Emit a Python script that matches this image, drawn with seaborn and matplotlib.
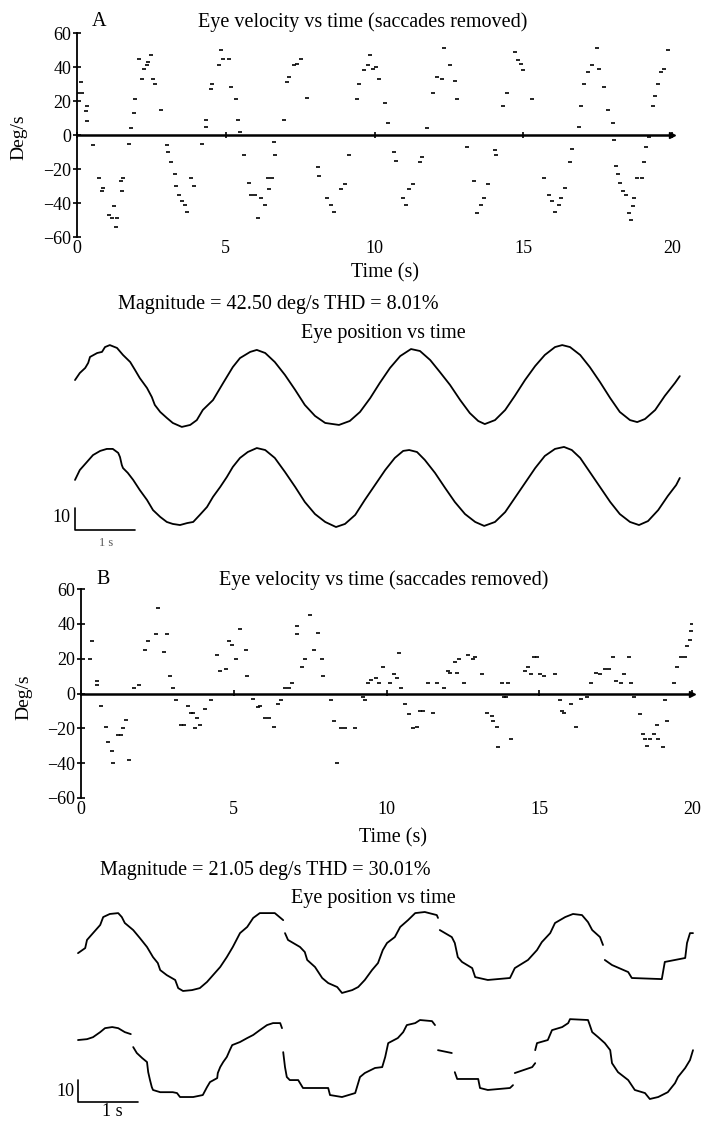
import numpy as np
import pandas as pd
import matplotlib.pyplot as plt
import seaborn as sns

sns.set_style("white")
plt.rcParams['font.family'] = ['Liberation Serif', 'DejaVu Serif']
plt.rcParams['text.color'] = 'k'
plt.rcParams['xtick.color'] = 'k'
plt.rcParams['ytick.color'] = 'k'
plt.rcParams['axes.labelcolor'] = 'k'

# ---- panel A, eye velocity (saccades removed): time (s), velocity (deg/s)
A_VEL_T = [0.12, 0.05, 0.18, 0.32, 0.30, 0.32, 0.54, 0.75, 0.88, 0.85,
           1.07, 1.18, 1.25, 1.30, 1.34, 1.48, 1.55, 1.51, 1.74, 1.81,
           1.90, 1.96, 2.08, 2.20, 2.26, 2.34, 2.38, 2.49, 2.57, 2.61,
           2.81, 3.02, 3.06, 3.17, 3.29, 3.34, 3.44, 3.52, 3.62, 3.71,
           3.82, 3.92, 4.20, 4.32, 4.35, 4.50, 4.54, 4.77, 4.83, 4.92,
           5.10, 5.18, 5.33, 5.40, 5.49, 5.63, 5.78, 5.86, 5.98, 6.08,
           6.19, 6.31, 6.42, 6.46, 6.54, 6.61, 6.66, 6.96, 7.06, 7.11,
           7.29, 7.40, 7.52, 7.74, 8.09, 8.15, 8.42, 8.53, 8.65, 8.88,
           9.00, 9.15, 9.40, 9.48, 9.66, 9.78, 9.86, 9.96, 10.05, 10.16,
           10.35, 10.46, 10.64, 10.72, 10.96, 11.06, 11.17, 11.29, 11.52, 11.59,
           11.77, 11.97, 12.09, 12.27, 12.35, 12.54, 12.69, 12.77, 13.10, 13.33,
           13.45, 13.58, 13.68, 13.81, 14.05, 14.10, 14.31, 14.46, 14.73, 14.84,
           14.91, 14.99, 15.29, 15.70, 15.85, 15.97, 16.08, 16.20, 16.27, 16.39,
           16.57, 16.65, 16.87, 16.95, 17.03, 17.18, 17.30, 17.48, 17.55, 17.70,
           17.86, 18.01, 18.05, 18.11, 18.20, 18.26, 18.35, 18.46, 18.54, 18.61,
           18.69, 18.72, 18.84, 18.99, 19.06, 19.14, 19.22, 19.37, 19.44, 19.52,
           19.62, 19.74, 19.85]
A_VEL = [31, 25, 25, 17, 14, 8, -6, -25, -31, -33,
         -47, -49, -42, -54, -49, -27, -25, -33, -5, 4,
         13, 21, 45, 33, 39, 41, 43, 47, 33, 30,
         15, -6, -10, -16, -23, -30, -35, -39, -41, -45,
         -25, -30, -5, 5, 9, 27, 30, 41, 50, 45,
         45, 28, 21, 9, 2, -12, -28, -35, -35, -49,
         -37, -41, -25, -32, -25, -4, -12, 9, 31, 34,
         41, 42, 45, 22, -19, -24, -37, -41, -45, -32,
         -29, -12, 21, 30, 38, 41, 47, 39, 40, 33,
         19, 7, -10, -15, -37, -41, -32, -29, -16, -13,
         4, 25, 34, 33, 51, 41, 32, 21, -7, -27,
         -46, -41, -37, -29, -9, -12, 17, 25, 49, 44,
         42, 38, 21, -25, -35, -39, -45, -41, -37, -31,
         -16, -8, 5, 17, 30, 37, 41, 51, 39, 28,
         15, 7, -3, -18, -23, -28, -33, -35, -46, -50,
         -42, -37, -25, -25, -16, -7, -1, 17, 23, 30,
         37, 39, 50]

# ---- panel B, eye velocity (saccades removed)
B_VEL_T = [0.29, 0.37, 0.51, 0.51, 0.66, 0.81, 0.88, 1.00, 1.05, 1.20,
           1.32, 1.39, 1.47, 1.58, 1.73, 1.90, 2.08, 2.20, 2.46, 2.53,
           2.71, 2.83, 2.90, 3.00, 3.12, 3.27, 3.37, 3.49, 3.59, 3.66,
           3.74, 3.81, 3.91, 4.07, 4.25, 4.44, 4.54, 4.76, 4.84, 4.95,
           5.08, 5.20, 5.39, 5.42, 5.64, 5.79, 5.86, 6.01, 6.15, 6.33,
           6.45, 6.56, 6.67, 6.81, 6.92, 7.06, 7.06, 7.25, 7.33, 7.50,
           7.62, 7.77, 7.88, 7.91, 8.18, 8.28, 8.38, 8.50, 8.64, 8.98,
           9.23, 9.30, 9.41, 9.49, 9.64, 9.74, 9.89, 10.11, 10.23, 10.33,
           10.40, 10.48, 10.62, 10.73, 10.87, 10.99, 11.11, 11.21, 11.36, 11.53,
           11.65, 11.87, 12.01, 12.09, 12.23, 12.31, 12.38, 12.53, 12.67, 12.82,
           12.89, 13.11, 13.30, 13.45, 13.48, 13.63, 13.66, 13.77, 13.85, 13.92,
           13.99, 14.07, 14.53, 14.62, 14.73, 14.83, 14.94, 15.02, 15.16, 15.50,
           15.68, 15.75, 15.82, 16.04, 16.19, 16.38, 16.56, 16.70, 16.85, 17.00,
           17.14, 17.29, 17.41, 17.51, 17.66, 17.77, 17.95, 17.99, 18.10, 18.29,
           18.39, 18.46, 18.53, 18.61, 18.75, 18.86, 18.90, 19.05, 19.12, 19.19,
           19.41, 19.52, 19.63, 19.78, 19.85, 19.93, 19.96, 20.00]
B_VEL = [20, 30, 7, 5, -7, -19, -28, -33, -40, -24,
         -24, -20, -15, -38, 3, 5, 25, 30, 34, 49,
         24, 34, 10, 3, -4, -18, -18, -7, -11, -11,
         -20, -14, -18, -9, -4, 22, 13, 14, 30, 28,
         20, 37, 25, 10, -3, -8, -7, -14, -14, -19,
         -6, -4, 3, 3, 6, 34, 39, 15, 20, 45,
         25, 35, 20, 10, -4, -16, -40, -20, -20, -20,
         -2, -4, 6, 8, 9, 6, 15, 6, 11, 9,
         23, 3, -6, -12, -20, -19, -10, -10, 6, -11,
         6, 3, 13, 12, 18, 12, 20, 6, 22, 20,
         21, 11, -11, -13, -16, -19, -31, 6, -2, -2,
         6, -26, 13, 15, 11, 21, 21, 11, 10, 11,
         -4, -10, -11, -6, -19, -3, -2, 6, 12, 11,
         14, 14, 21, 7, 6, 11, 21, 6, -2, -12,
         -23, -26, -30, -26, -23, -18, -26, -31, -4, -16,
         6, 15, 21, 21, 27, 31, 36, 40]

# ---- panel A, eye position traces: time (s), position (deg)
A_UP_T = [0.00, 0.08, 0.17, 0.22, 0.25, 0.37, 0.45, 0.50, 0.58, 0.70,
          0.80, 0.92, 1.00, 1.08, 1.20, 1.28, 1.33, 1.42, 1.53, 1.63,
          1.78, 1.92, 2.03, 2.13, 2.30, 2.47, 2.63, 2.75, 2.92, 3.03,
          3.17, 3.33, 3.50, 3.67, 3.83, 4.00, 4.17, 4.40, 4.58, 4.75,
          4.92, 5.08, 5.25, 5.42, 5.60, 5.75, 5.92, 6.08, 6.25, 6.42,
          6.58, 6.72, 6.83, 7.00, 7.17, 7.33, 7.50, 7.67, 7.83, 8.00,
          8.12, 8.25, 8.42, 8.58, 8.75, 8.92, 9.08, 9.25, 9.37, 9.50,
          9.67, 9.83, 10.00, 10.08]
A_UP_DEG = [2.7, 5.9, 8.2, 10.5, 13.2, 15.0, 15.5, 17.7, 18.6, 17.3,
            14.1, 10.9, 7.3, 3.6, -0.9, -5.0, -8.6, -11.8, -14.5, -16.8,
            -18.6, -17.7, -15.5, -10.9, -6.4, 1.4, 8.6, 12.7, 15.5, 16.4,
            15.0, 10.9, 5.0, -1.8, -8.6, -13.6, -16.8, -17.7, -15.9, -11.8,
            -5.5, 1.4, 8.2, 13.6, 16.8, 15.9, 11.8, 6.4, 0.5, -6.4,
            -12.3, -15.9, -17.3, -15.5, -10.9, -4.5, 2.7, 9.1, 14.1, 17.7,
            18.6, 17.7, 14.1, 8.6, 1.8, -5.5, -11.8, -15.5, -16.4, -15.0,
            -10.9, -4.5, 1.4, 4.5]
A_LO_T = [0.00, 0.08, 0.20, 0.30, 0.42, 0.53, 0.63, 0.72, 0.75, 0.78,
          0.80, 0.88, 0.97, 1.08, 1.20, 1.30, 1.42, 1.53, 1.63, 1.75,
          1.87, 1.97, 2.08, 2.20, 2.30, 2.42, 2.53, 2.63, 2.75, 2.88,
          3.03, 3.17, 3.33, 3.50, 3.67, 3.83, 4.00, 4.17, 4.35, 4.50,
          4.67, 4.83, 5.00, 5.17, 5.33, 5.47, 5.57, 5.70, 5.83, 6.00,
          6.17, 6.33, 6.50, 6.67, 6.82, 7.00, 7.17, 7.33, 7.50, 7.67,
          7.83, 8.00, 8.15, 8.28, 8.42, 8.58, 8.75, 8.92, 9.08, 9.25,
          9.40, 9.55, 9.72, 9.88, 10.02, 10.08]
A_LO_DEG = [3.2, 7.7, 11.4, 14.5, 16.4, 17.3, 17.3, 15.5, 13.6, 10.0,
            8.6, 6.4, 3.2, -1.4, -5.9, -10.5, -13.6, -15.9, -16.8, -17.3,
            -16.4, -15.9, -12.7, -9.1, -4.5, 0.0, 4.5, 9.1, 13.2, 15.9,
            17.7, 16.8, 13.2, 6.8, 0.0, -6.8, -12.3, -15.9, -18.2, -16.8,
            -12.7, -5.9, 0.9, 7.7, 13.2, 16.4, 16.8, 15.9, 12.3, 6.4,
            -0.5, -6.8, -12.3, -15.9, -17.7, -15.9, -11.4, -5.0, 1.8, 8.6,
            14.1, 17.3, 18.2, 16.8, 13.2, 6.8, 0.0, -6.8, -12.3, -15.9,
            -17.3, -15.5, -10.5, -4.1, 0.9, 4.1]

# ---- panel B, eye position traces (broken at the saccades)
B_UP_T = [
    [0.00, 0.12, 0.15, 0.25, 0.37, 0.42, 0.53, 0.67, 0.73, 0.78,
     0.92, 1.03, 1.15, 1.25, 1.33, 1.37, 1.48, 1.62, 1.67, 1.75,
     1.90, 2.03, 2.15, 2.25, 2.37, 2.48, 2.58, 2.70, 2.82, 2.92,
     3.03, 3.15, 3.28, 3.42],
    [3.45, 3.50, 3.70, 3.78, 3.82, 3.95, 4.07, 4.17, 4.32, 4.40,
     4.57, 4.67, 4.78, 4.90, 5.00, 5.08, 5.15, 5.28, 5.37, 5.50,
     5.62, 5.78, 5.98, 6.00],
    [6.03, 6.23, 6.28, 6.33, 6.40, 6.57, 6.62, 6.83, 7.20, 7.28,
     7.50, 7.65, 7.73, 7.87, 7.95, 8.12, 8.25, 8.40, 8.50, 8.57,
     8.70, 8.75],
    [8.78, 8.90, 9.17, 9.23, 9.73, 9.78, 10.12, 10.15, 10.20, 10.25],
]
B_UP_DEG = [
    [-0.5, 1.8, 5.5, 8.6, 12.3, 15.9, 17.3, 17.7, 15.9, 13.2,
     10.0, 6.4, 2.3, -2.3, -5.0, -8.2, -10.5, -12.7, -16.4, -17.7,
     -17.3, -16.4, -13.6, -10.5, -6.8, -2.3, 2.3, 8.6, 11.4, 15.5,
     17.7, 17.7, 17.7, 14.5],
    [8.6, 5.5, 2.3, 0.0, -3.6, -6.8, -11.8, -14.1, -15.9, -18.6,
     -17.3, -15.9, -12.7, -8.2, -5.0, 0.9, 4.1, 6.8, 11.4, 14.5,
     17.7, 18.2, 16.8, 15.5],
    [10.0, 6.8, 4.1, -2.3, -4.5, -7.3, -11.4, -12.7, -11.8, -7.3,
     -3.6, 0.9, 4.5, 8.6, 13.2, 15.9, 17.3, 16.8, 13.6, 10.0,
     6.8, 3.2],
    [-3.6, -5.9, -9.1, -11.8, -12.3, -4.5, -2.7, 4.1, 8.6, 8.6],
]
B_LO_T = [
    [0.00, 0.15, 0.25, 0.37, 0.45, 0.57, 0.67, 0.78, 0.88],
    [0.92, 0.98, 1.07, 1.15, 1.17, 1.20, 1.23, 1.25, 1.37, 1.58,
     1.65, 1.70, 1.92, 2.08, 2.15, 2.20, 2.32, 2.33, 2.37, 2.42,
     2.48, 2.53, 2.57, 2.70, 2.82, 2.92, 3.03, 3.15, 3.25, 3.37,
     3.40],
    [3.42, 3.45, 3.48, 3.53, 3.67, 3.75, 4.17, 4.20, 4.40, 4.62,
     4.70, 4.78, 4.95, 5.07, 5.12, 5.17, 5.33, 5.42, 5.48, 5.62,
     5.70, 5.90, 5.95],
    [6.00, 6.23],
    [6.28, 6.32, 6.67, 6.70, 6.83, 7.20, 7.25],
    [7.28, 7.57, 7.62],
    [7.62, 7.65, 7.83, 7.90, 8.07, 8.17, 8.20, 8.50, 8.53, 8.57,
     8.67, 8.78, 8.87, 8.90, 9.00, 9.17, 9.28, 9.45, 9.53, 9.67,
     9.83, 9.95, 10.00, 10.12, 10.20, 10.25],
]
B_LO_DEG = [
    [8.2, 8.6, 9.5, 11.8, 13.6, 14.1, 13.6, 11.8, 10.9],
    [5.0, 2.3, 0.0, -1.8, -6.4, -10.0, -13.2, -14.5, -15.5, -15.5,
     -15.9, -17.7, -17.7, -16.8, -13.2, -10.9, -9.1, -6.8, -4.1, -1.8,
     0.5, 3.6, 5.9, 7.3, 9.1, 10.5, 12.7, 15.0, 15.9, 15.9,
     13.6],
    [2.7, -4.1, -8.6, -10.0, -10.0, -13.6, -13.6, -16.8, -17.7, -15.9,
     -8.6, -6.8, -4.5, -4.1, 0.5, 6.8, 9.1, 11.8, 15.0, 15.9,
     17.3, 16.8, 15.0],
    [3.6, 2.3],
    [-6.4, -9.5, -9.5, -13.6, -14.5, -13.6, -12.3],
    [-6.8, -4.1, -2.3],
    [3.6, 6.8, 8.2, 12.7, 14.1, 15.9, 17.7, 17.3, 15.0, 11.8,
     9.5, 6.8, 3.6, -2.3, -6.4, -10.0, -14.5, -15.9, -18.6, -17.7,
     -15.5, -11.4, -8.6, -4.5, -0.9, 3.6],
]

VEL_TITLE = "Eye velocity vs time (saccades removed)"
POS_TITLE = "Eye position vs time"
MAG_A = "Magnitude = 42.50 deg/s THD = 8.01%"
MAG_B = "Magnitude = 21.05 deg/s THD = 30.01%"

W, H = 703, 1121
fig = plt.figure(figsize=(W / 100, H / 100), dpi=100)


def rect(x0, x1, ytop, ybot):
    return [x0 / W, 1 - ybot / H, (x1 - x0) / W, (ybot - ytop) / H]


def ftext(x, y, s, size=14.5, **kw):
    fig.text(x / W, 1 - y / H, s, fontsize=size, ha=kw.pop('ha', 'center'),
             va=kw.pop('va', 'center'), **kw)


def velocity_panel(r, t, v):
    ax = fig.add_axes(r)
    ax.axhline(0, color='k', lw=1.8, zorder=1)
    sns.scatterplot(x=t, y=v, marker='_', s=6, color='k', linewidth=1.2,
                    ax=ax, zorder=3)
    ax.set_xlim(0, 20)
    ax.set_ylim(-60, 60)
    for s in ['top', 'right', 'bottom']:
        ax.spines[s].set_visible(False)
    ax.spines['left'].set_linewidth(1.3)
    ax.spines['left'].set_color('k')
    ax.set_yticks(range(-60, 61, 20))
    ax.set_xticks([0, 5, 10, 15, 20])
    ax.tick_params(axis='y', direction='inout', length=6, width=1.2,
                   labelsize=13, pad=1, left=True)
    ax.tick_params(axis='x', length=0, labelsize=13, pad=2)
    # ticks sitting on the zero line
    sec = ax.secondary_xaxis(0.5)
    sec.set_xticks([0, 5, 10, 15, 20])
    sec.set_xticklabels([])
    sec.tick_params(direction='inout', length=5, width=1.2,
                    labelbottom=False, labeltop=False)
    for s in sec.spines.values():
        s.set_visible(False)
    ax.plot(1, 0, marker='>', color='k', ms=5, transform=ax.get_yaxis_transform(),
            clip_on=False)
    ax.set_xlabel('')
    ax.set_ylabel('')
    return ax


def trace_frame(segs_t, segs_d, offset, name):
    parts = []
    for i, (ts, ds) in enumerate(zip(segs_t, segs_d)):
        parts.append(pd.DataFrame({'t': ts, 'deg': np.array(ds) + offset,
                                   'seg': f'{name}{i}'}))
    return pd.concat(parts, ignore_index=True)


def position_panel(r, xlim, ylim, df, bar_y):
    ax = fig.add_axes(r)
    sns.lineplot(data=df, x='t', y='deg', units='seg', estimator=None,
                 sort=False, color='k', lw=1.3, ax=ax)
    # scale bar: 10 deg by 1 s
    ax.plot([0, 0, 1], [bar_y + 10, bar_y, bar_y], color='k', lw=1.2)
    ax.set_xlim(*xlim)
    ax.set_ylim(*ylim)
    ax.axis('off')
    return ax


# panel A
velocity_panel(rect(77, 672, 33, 237), A_VEL_T, A_VEL)
ftext(99, 22, "A")
ftext(363, 22, VEL_TITLE)
ftext(19, 137, "Deg/s", rotation=90, size=14)
ftext(385, 273, "Time (s)")
ftext(278, 305, MAG_A)
ftext(383, 333, POS_TITLE)

dfA = pd.concat([trace_frame([A_UP_T], [A_UP_DEG], 70.0, 'u'),
                 trace_frame([A_LO_T], [A_LO_DEG], 24.1, 'l')])
position_panel(rect(60, 690, 335, 540), (-0.25, 10.25), (0, 205 / 2.2), dfA, 4.5)
ftext(61, 518, "10", size=13)
ftext(106, 543, "1 s", size=9, color='0.35')

# panel B
velocity_panel(rect(81, 692, 589, 798), B_VEL_T, B_VEL)
ftext(103, 580, "B")
ftext(384, 580, VEL_TITLE)
ftext(24, 697, "Deg/s", rotation=90, size=14)
ftext(393, 838, "Time (s)")
ftext(265, 870, MAG_B)
ftext(373, 898, POS_TITLE)

dfB = pd.concat([trace_frame(B_UP_T, B_UP_DEG, 76.8, 'u'),
                 trace_frame(B_LO_T, B_LO_DEG, 28.6, 'l')])
position_panel(rect(60, 700, 900, 1121), (-0.3, 622 / 60), (0, 221 / 2.2), dfB, 8.6)
ftext(65, 1091, "10", size=13)
ftext(112, 1103, "1 s", size=13, va='top')

fig.savefig("out.png", dpi=100)
